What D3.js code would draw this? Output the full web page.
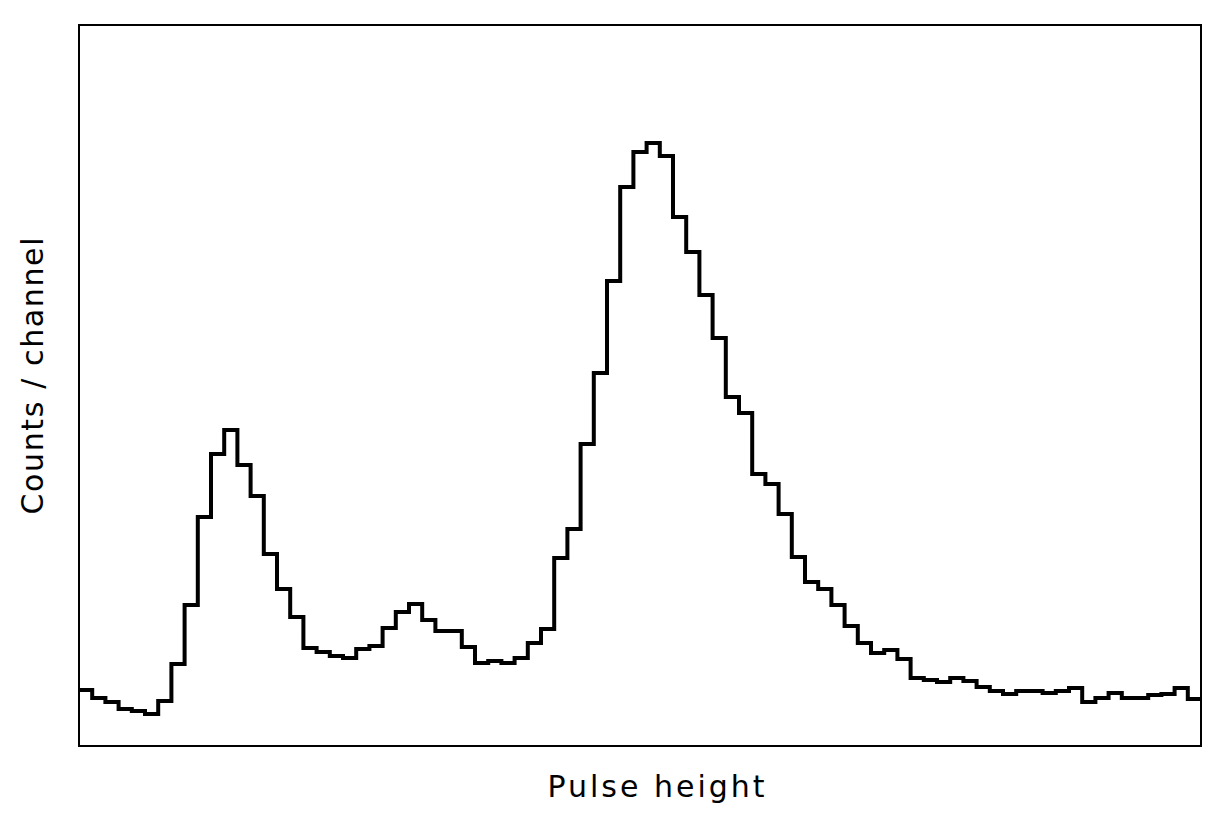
<!DOCTYPE html>
<html>
<head>
<meta charset="utf-8">
<script src="https://cdn.jsdelivr.net/npm/d3@7"></script>
<style>
  html, body { margin: 0; padding: 0; background: #fff; }
  svg { display: block; }
  text { font-family: "DejaVu Sans", "Liberation Sans", sans-serif; fill: #000; }
</style>
</head>
<body>
<svg id="chart" width="1206" height="818"></svg>
<script>
// Channel indices (pulse height bins) and counts per channel (arbitrary units)
const channels = d3.range(0, 85);
const counts = [
  56, 48, 44, 37, 35, 32, 45, 82, 141, 229,
  292, 316, 281, 250, 192, 157, 129, 98, 94, 90,
  88, 97, 100, 118, 134, 142, 126, 115, 115, 99,
  83, 85, 83, 88, 103, 117, 188, 217, 302, 373,
  465, 559, 594, 603, 590, 529, 494, 451, 408, 349,
  333, 272, 262, 232, 189, 164, 157, 141, 120, 103,
  93, 96, 87, 68, 66, 64, 68, 65, 59, 55,
  52, 55, 55, 53, 55, 58, 44, 48, 53, 48,
  48, 51, 52, 58, 47
];
const xLabel = "Pulse height";
const yLabel = "Counts / channel";

const svg = d3.select("#chart");
const margin = { left: 79, right: 5, top: 25, bottom: 72 };
const W = 1206, H = 818;
const x = d3.scaleLinear().domain([0, channels.length]).range([margin.left, W - margin.right]);
const y = d3.scaleLinear().domain([0, 721]).range([H - margin.bottom, margin.top]);

// frame
svg.append("rect")
  .attr("x", x(0)).attr("y", y(721))
  .attr("width", x(channels.length) - x(0))
  .attr("height", y(0) - y(721))
  .attr("fill", "none").attr("stroke", "#000").attr("stroke-width", 2);

// step histogram
const pts = [];
channels.forEach((c, i) => {
  pts.push([c, counts[i]]);
  pts.push([c + 1, counts[i]]);
});
const line = d3.line().x(d => x(d[0])).y(d => y(d[1])).curve(d3.curveLinear);
svg.append("path")
  .attr("d", line(pts))
  .attr("fill", "none").attr("stroke", "#000")
  .attr("stroke-width", 4).attr("stroke-linejoin", "miter");

// axis labels
svg.append("text")
  .attr("x", 656).attr("y", 797)
  .attr("text-anchor", "middle")
  .attr("font-size", 30)
  .attr("textLength", 217).attr("lengthAdjust", "spacing")
  .text(xLabel);

svg.append("text")
  .attr("transform", "translate(43,376) rotate(-90)")
  .attr("text-anchor", "middle")
  .attr("font-size", 30)
  .attr("textLength", 277).attr("lengthAdjust", "spacing")
  .text(yLabel);
</script>
</body>
</html>
